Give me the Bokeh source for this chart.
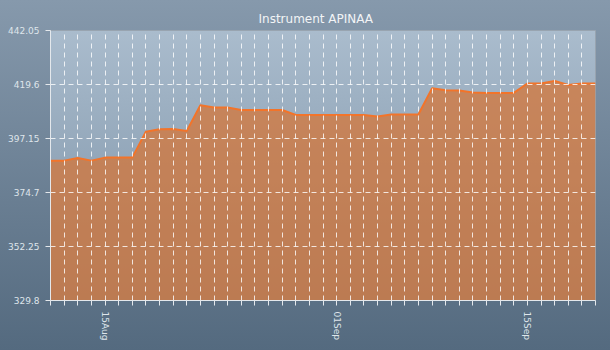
from datetime import datetime, timedelta
from bokeh.plotting import figure
from bokeh.models import FixedTicker, CustomJSTickFormatter, Range1d
from bokeh.embed import file_html
from bokeh.resources import INLINE

title_text = "Instrument APINAA"
start_day = "2011-08-11"
values = [387.95, 387.95, 389.0, 387.95, 389.2, 389.2, 389.2, 400.0, 401.0, 401.1,
          400.3, 411.0, 410.0, 410.0, 409.0, 409.0, 409.0, 409.0, 406.9, 406.9,
          406.9, 406.9, 406.9, 406.9, 406.3, 407.1, 407.1, 407.1, 418.0, 417.2,
          417.1, 416.3, 416.1, 416.1, 416.1, 420.0, 420.0, 421.1, 419.4, 420.0,
          420.0]
y_ticks = [329.8, 352.25, 374.7, 397.15, 419.6, 442.05]
label_days = [1, 15]

d0 = datetime.strptime(start_day, "%Y-%m-%d")
dates = [d0 + timedelta(days=i) for i in range(len(values))]

def ms(d):
    return (d - datetime(1970, 1, 1)).total_seconds() * 1000.0

p = figure(width=610, height=350, x_axis_type="datetime",
           output_backend="svg", toolbar_location=None,
           min_border_left=50, min_border_right=15, min_border_top=30, min_border_bottom=50)
p.x_range = Range1d(ms(dates[0]), ms(dates[-1]))
p.y_range = Range1d(y_ticks[0], y_ticks[-1])

p.border_fill_alpha = 0
p.background_fill_alpha = 0
p.styles = {"background": ("linear-gradient(#aabccd, #7a90a5) 50px 30px / 545px 270px no-repeat, "
                           "linear-gradient(#8699ac, #546a7f)")}
p.outline_line_color = "#98a4b0"

p.title.text = title_text
p.title.align = "left"
p.title.offset = 208
p.title.text_font = "DejaVu Sans"
p.title.text_font_size = "12px"
p.title.text_font_style = "normal"
p.title.text_color = "#f2f4f6"

for g in (p.xgrid, p.ygrid):
    g.grid_line_color = "white"
    g.grid_line_alpha = 0.8
    g.grid_line_dash = "5 4"
    g.level = "glyph"

p.xaxis.ticker = FixedTicker(ticks=[ms(d) for d in dates])
p.xaxis.formatter = CustomJSTickFormatter(args=dict(days=label_days), code="""
const d = new Date(tick);
const day = d.getUTCDate();
if (days.includes(day)) {
  const m = ['Jan','Feb','Mar','Apr','May','Jun','Jul','Aug','Sep','Oct','Nov','Dec'][d.getUTCMonth()];
  return (day < 10 ? '0' : '') + day + m;
}
return '';
""")
p.xaxis.major_label_orientation = "vertical"
p.yaxis.ticker = FixedTicker(ticks=y_ticks)
p.yaxis.formatter = CustomJSTickFormatter(code="return String(Math.round(tick*100)/100);")

for ax in (p.xaxis, p.yaxis):
    ax.axis_line_color = "#e4e8ec"
    ax.major_tick_line_color = "#e4e8ec"
    ax.major_tick_out = 5
    ax.major_tick_in = 0
    ax.minor_tick_line_color = None
    ax.major_label_text_font = "DejaVu Sans"
    ax.major_label_text_font_size = "9px"
    ax.major_label_text_color = "#dfe5eb"
    ax.major_label_standoff = 6

p.varea(x=dates, y1=y_ticks[0], y2=values, fill_color="#d8722f", fill_alpha=0.7)
p.line(x=dates, y=values, line_color="#f2742a", line_width=2)

open("out.html", "w").write(file_html(p, INLINE))
